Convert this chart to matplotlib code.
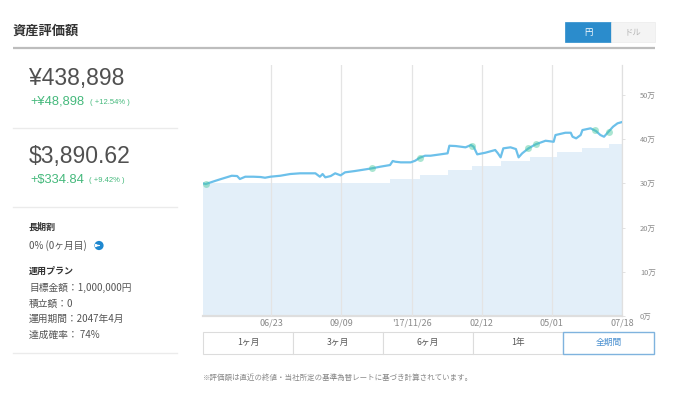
import matplotlib
matplotlib.use("Agg")
import matplotlib.pyplot as plt
import matplotlib.dates as mdates
from matplotlib.patches import Rectangle, Circle
import pandas as pd

plt.rcParams['font.family'] = ['Noto Sans CJK JP', 'DejaVu Sans']

# ---------------- data ----------------
value_dates = ['2017-04-08', '2017-04-11', '2017-04-21', '2017-04-27', '2017-05-10', '2017-05-16',
               '2017-05-19', '2017-05-25', '2017-06-03', '2017-06-11', '2017-06-16', '2017-06-22',
               '2017-07-03', '2017-07-14', '2017-07-25', '2017-08-11', '2017-08-16', '2017-08-19',
               '2017-08-22', '2017-08-28', '2017-09-02', '2017-09-08', '2017-09-13', '2017-09-24',
               '2017-10-06', '2017-10-13', '2017-10-22', '2017-11-02', '2017-11-05', '2017-11-08',
               '2017-11-14', '2017-11-25', '2017-11-30', '2017-12-05', '2017-12-11', '2017-12-17',
               '2017-12-28', '2018-01-05', '2018-01-07', '2018-01-14', '2018-01-25', '2018-01-31',
               '2018-02-03', '2018-02-07', '2018-02-16', '2018-02-27', '2018-03-02', '2018-03-05',
               '2018-03-08', '2018-03-16', '2018-03-22', '2018-03-25', '2018-03-29', '2018-04-05',
               '2018-04-13', '2018-04-24', '2018-05-03', '2018-05-05', '2018-05-16', '2018-05-22',
               '2018-05-24', '2018-05-28', '2018-06-02', '2018-06-04', '2018-06-13', '2018-06-19',
               '2018-06-24', '2018-06-28', '2018-07-03', '2018-07-08', '2018-07-13', '2018-07-18']
value_yen = [300200, 298600, 305400, 309300, 317400, 316700,
             310000, 315200, 315200, 314500, 312900, 315200,
             317400, 321300, 322900, 322900, 315200, 321300,
             313800, 316700, 322900, 318300, 325100, 328100,
             331900, 334200, 337800, 341600, 350700, 349100,
             347700, 347700, 351400, 358100, 362700, 362700,
             365800, 368100, 385300, 384600, 381700, 386900,
             383000, 365800, 369500, 375600, 368100, 359000,
             379400, 381700, 377800, 359000, 368100, 379400,
             388500, 396600, 394300, 409500, 414700, 414700,
             405700, 402000, 409500, 420800, 424700, 418600,
             409500, 405700, 417000, 428300, 436000, 438898]

cost_dates = ['2017-04-08', '2017-11-02', '2017-12-05', '2018-01-06', '2018-02-01', '2018-03-05',
              '2018-04-07', '2018-05-07', '2018-06-04', '2018-07-03', '2018-07-18']
cost_yen = [300000, 310000, 320000, 330000, 340000, 350000, 360000, 370000, 380000, 390000, 390000]

buy_dates = ['2017-04-11', '2017-10-13', '2017-12-05', '2018-02-01', '2018-04-05', '2018-04-13',
             '2018-06-18', '2018-07-03']
buy_yen = [298600, 334200, 358100, 384500, 379400, 388500, 420800, 417000]

x_tick_dates = ['2017-06-23', '2017-09-09', '2017-11-26', '2018-02-12', '2018-05-01', '2018-07-18']
x_tick_labels = ['06/23', '09/09', "'17/11/26", '02/12', '05/01', '07/18']
y_ticks = [0, 100000, 200000, 300000, 400000, 500000]
y_tick_labels = ['0万', '10万', '20万', '30万', '40万', '50万']

period_buttons = ['1ヶ月', '3ヶ月', '6ヶ月', '1年', '全期間']

# ---------------- figure ----------------
W, H = 680, 396
fig = plt.figure(figsize=(W / 100, H / 100), dpi=100)
fig.patch.set_facecolor('white')

# overlay axes in pixel coordinates
ov = fig.add_axes([0, 0, 1, 1], zorder=0)
ov.set_xlim(0, W)
ov.set_ylim(H, 0)
ov.axis('off')

DARK = '#333333'
GRAY = '#555555'
LIGHT = '#888888'
GREEN = '#45b97c'
BLUE = '#2b8ccc'

# header
ov.text(13, 31, '資産評価額', fontsize=9.5, fontweight='bold', color=DARK, va='center', ha='left')
ov.plot([13, 655], [47.5, 47.5], color='#bdbdbd', lw=1.6, solid_capstyle='butt')
ov.add_patch(Rectangle((565, 22), 46, 20, facecolor=BLUE, edgecolor=BLUE, lw=0.5))
ov.add_patch(Rectangle((611, 22), 44, 20, facecolor='#f4f4f4', edgecolor='#ececec', lw=0.5))
ov.text(588, 32, '円', fontsize=6, color='white', ha='center', va='center')
ov.text(633, 32, 'ドル', fontsize=6, color='#b5b5b5', ha='center', va='center')

# left panel
num_font = ['Liberation Sans', 'DejaVu Sans']
ov.text(29, 78, '¥438,898', fontsize=16.5, color='#505050', family=num_font, va='center', ha='left')
ov.text(30, 102, '+¥48,898', fontsize=9.3, color=GREEN, family=num_font, va='center', ha='left')
ov.text(90, 102.5, '( +12.54% )', fontsize=5.5, color=GREEN, family=num_font, va='center', ha='left')
ov.plot([13, 177], [128, 128], color='#ebebeb', lw=1)
ov.text(29, 157, '$3,890.62', fontsize=16.5, color='#505050', family=num_font, va='center', ha='left')
ov.text(30, 180, '+$334.84', fontsize=9.3, color=GREEN, family=num_font, va='center', ha='left')
ov.text(89, 180.5, '( +9.42% )', fontsize=5.5, color=GREEN, family=num_font, va='center', ha='left')
ov.plot([13, 177], [207, 207], color='#ebebeb', lw=1)

ov.text(29, 227, '長期割', fontsize=6.5, fontweight='bold', color=DARK, va='center', ha='left')
ov.text(29, 246, '0% (0ヶ月目)', fontsize=7, color=GRAY, va='center', ha='left')
ov.add_patch(Circle((99, 245.5), 4.6, facecolor='#1f88d0', edgecolor='none'))
ov.annotate('', xy=(102, 245.5), xytext=(96, 245.5),
            arrowprops=dict(arrowstyle='-|>', color='white', lw=0.9, mutation_scale=4))
ov.text(29, 271, '運用プラン', fontsize=6.5, fontweight='bold', color=DARK, va='center', ha='left')
ov.text(29, 288, '目標金額：1,000,000円', fontsize=7, color=GRAY, va='center', ha='left')
ov.text(29, 303.5, '積立額：0', fontsize=7, color=GRAY, va='center', ha='left')
ov.text(29, 319, '運用期間：2047年4月', fontsize=7, color=GRAY, va='center', ha='left')
ov.text(29, 335, '達成確率： 74%', fontsize=7, color=GRAY, va='center', ha='left')
ov.plot([13, 177], [353, 353], color='#ebebeb', lw=1)

# period buttons
edges = [203, 293, 383, 473, 563, 654]
for i, lab in enumerate(period_buttons):
    x0, x1 = edges[i], edges[i + 1]
    active = (i == len(period_buttons) - 1)
    if not active:
        ov.add_patch(Rectangle((x0, 331.5), x1 - x0, 22, facecolor='white', edgecolor='#dcdcdc', lw=0.8))
        ov.text((x0 + x1) / 2, 342.5, lab, fontsize=6.3, color=GRAY, ha='center', va='center')
ov.add_patch(Rectangle((edges[-2], 331.5), edges[-1] - edges[-2], 22, facecolor='white',
                       edgecolor='#7fb3de', lw=1.0, zorder=3))
ov.text((edges[-2] + edges[-1]) / 2, 342.5, period_buttons[-1], fontsize=6.3, color='#4a90d0',
        ha='center', va='center', zorder=4)

ov.text(203, 377.5, '※評価額は直近の終値・当社所定の基準為替レートに基づき計算されています。',
        fontsize=5.4, color=LIGHT, ha='left', va='center')

# ---------------- chart ----------------
L, R, T, B = 203, 622, 65, 316
ax = fig.add_axes([L / W, 1 - B / H, (R - L) / W, (B - T) / H], zorder=1)
ax.set_facecolor('white')

vd = pd.to_datetime(value_dates)
cd = pd.to_datetime(cost_dates)
bd = pd.to_datetime(buy_dates)

ax.fill_between(cd, cost_yen, 0, step='post', facecolor='#e3eff9', edgecolor='none', zorder=1)
ax.plot(vd, value_yen, color='#6cc0ea', lw=1.6, zorder=3, solid_joinstyle='round')
ax.plot(bd, buy_yen, 'o', color='#45c79a', alpha=0.45, markersize=5, markeredgewidth=0, zorder=4)

ax.set_xlim(pd.Timestamp('2017-04-08'), pd.Timestamp('2018-07-18'))
ax.set_ylim(0, 568000)

xt = pd.to_datetime(x_tick_dates)
ax.set_xticks(xt)
ax.set_xticklabels(x_tick_labels)
ax.set_yticks(y_ticks)
ax.set_yticklabels(y_tick_labels)

ax.yaxis.tick_right()
ax.tick_params(axis='y', length=2.5, width=0.6, color='#dddddd', pad=10.5, labelsize=5.4,
               labelcolor='#8a8a8a')
ax.tick_params(axis='x', length=0, pad=2, labelsize=6.5, labelcolor='#8a8a8a')
for lbl in ax.get_yticklabels():
    lbl.set_horizontalalignment('left')

ax.xaxis.grid(True, color='#e4e4e4', lw=0.9)
ax.yaxis.grid(False)
ax.set_axisbelow(False)
for s in ['left', 'top']:
    ax.spines[s].set_visible(False)
ax.spines['right'].set_color('#e0e0e0')
ax.spines['right'].set_linewidth(0.9)
ax.spines['bottom'].set_color('#dedede')
ax.spines['bottom'].set_linewidth(1.6)

fig.savefig('out.png', dpi=100, facecolor='white')
